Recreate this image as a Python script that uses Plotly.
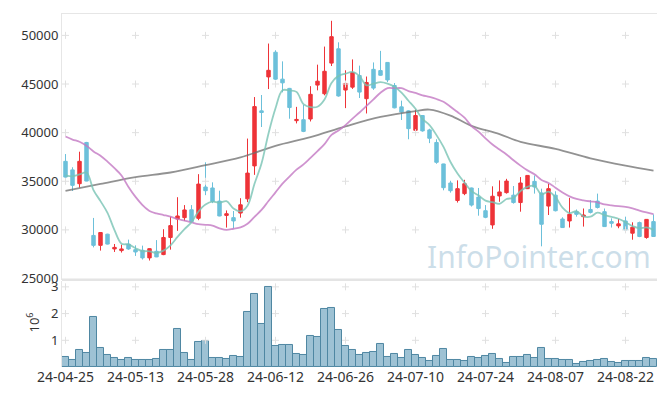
import plotly.graph_objects as go
import pandas as pd

dates = ["24-04-25","24-04-26","24-04-29","24-04-30","24-05-02","24-05-03","24-05-07","24-05-08","24-05-09","24-05-10",
         "24-05-13","24-05-14","24-05-16","24-05-17","24-05-20","24-05-21","24-05-22","24-05-23","24-05-24","24-05-27",
         "24-05-28","24-05-29","24-05-30","24-05-31","24-06-03","24-06-04","24-06-05","24-06-07","24-06-10","24-06-11",
         "24-06-12","24-06-13","24-06-14","24-06-17","24-06-18","24-06-19","24-06-20","24-06-21","24-06-24","24-06-25",
         "24-06-26","24-06-27","24-06-28","24-07-01","24-07-02","24-07-03","24-07-04","24-07-05","24-07-08","24-07-09",
         "24-07-10","24-07-11","24-07-12","24-07-15","24-07-16","24-07-17","24-07-18","24-07-19","24-07-22","24-07-23",
         "24-07-24","24-07-25","24-07-26","24-07-29","24-07-30","24-07-31","24-08-01","24-08-02","24-08-05","24-08-06",
         "24-08-07","24-08-08","24-08-09","24-08-12","24-08-13","24-08-14","24-08-16","24-08-19","24-08-20","24-08-21",
         "24-08-22","24-08-23","24-08-26","24-08-27","24-08-28"]

open_ = [37050,36170,34750,38990,29430,28410,29560,28040,27870,28540,
         27970,27900,27120,27800,27460,29220,31120,31260,32070,31190,
         34410,34310,32960,31490,31260,31730,33190,36580,42240,45730,
         48270,45500,44550,41230,41330,41400,44890,44000,47150,48620,
         44380,44680,45870,43490,46510,46380,47220,44850,42650,42240,
         40240,41760,40280,38990,36780,34820,33020,33730,34310,33370,
         31970,30510,33490,33830,33570,32810,34240,34990,33800,32450,
         33570,31120,30920,31870,31360,32100,32960,31870,30850,30410,
         30920,29660,30750,29220,30850]
high = [37800,36440,38040,39050,31230,29750,29600,28550,28480,29000,
        28410,28380,28100,28950,30070,31360,33360,32550,32550,35730,
        36950,34890,34030,32000,31940,33260,39390,43660,43870,49160,
        48470,47330,44600,42650,42850,44780,46990,48850,51500,49290,
        46410,47530,46890,45770,47220,48410,47250,45100,43290,42300,
        42370,41800,40400,39320,36800,35050,35090,35150,34350,34310,
        32550,34480,35090,35250,34510,35430,35620,35600,34240,34750,
        33970,31300,33290,32100,32200,33060,33730,32200,31190,31120,
        31360,30780,30850,31120,31590]
low = [35300,34000,34340,35000,28200,27870,28500,27730,27670,27950,
       27320,26950,26850,27200,27400,27970,29900,30920,30800,31000,
       33570,32750,31400,30240,30140,31260,32850,35660,40580,44480,
       45420,44140,41430,40950,40050,41150,44350,43840,46850,43700,
       42520,44500,43560,41970,44400,45850,45200,42500,41300,39320,
       40200,40100,38920,36800,34070,33830,32810,33570,32400,31460,
       31200,30110,32890,33730,32700,31870,34200,33730,28310,31530,
       31900,30200,30240,31360,30340,31690,32200,30300,30240,30170,
       29950,28990,29250,29090,29300]
close = [35430,34580,37050,35020,28410,29730,28540,28200,28040,28040,
         27730,27120,28070,27220,29220,30440,31430,32050,30850,34710,
         34030,32920,31430,31660,30920,32580,35840,42680,42070,46410,
         45500,45120,42580,41360,40130,43940,45290,46310,49870,43770,
         45060,46180,44170,45160,44580,45900,45420,42550,42110,40410,
         41760,40180,39420,36950,34340,34030,34240,34750,32550,32190,
         31290,33460,33900,35020,32810,34820,35600,34410,30580,34240,
         31970,30240,31600,31600,31530,31800,32300,30340,30680,30620,
         30000,30270,29320,31080,29320]
volume_m = [0.37,0.27,0.62,0.51,1.87,0.71,0.44,0.34,0.27,0.34,
            0.27,0.27,0.27,0.30,0.63,0.63,1.44,0.52,0.27,0.93,
            0.96,0.34,0.34,0.30,0.40,0.38,2.06,2.72,1.62,3.01,
            0.78,0.82,0.82,0.49,0.45,1.18,1.11,2.17,2.21,1.40,
            0.78,0.63,0.45,0.51,0.55,0.88,0.38,0.48,0.34,0.63,
            0.44,0.34,0.23,0.40,0.67,0.27,0.27,0.23,0.38,0.34,
            0.41,0.49,0.30,0.16,0.38,0.38,0.45,0.34,0.71,0.30,
            0.30,0.27,0.27,0.12,0.18,0.23,0.27,0.30,0.19,0.16,
            0.23,0.23,0.23,0.34,0.30]

# moving-average values before the window is complete
ma5_head = [35600, 35500, 35700, 35900]
ma20_head = [39600, 39290, 39060, 38650, 38070, 37630, 37020, 36340, 35600, 34410,
             33390, 32550, 31940, 31690, 31530, 31360, 31120, 30950, 30780]
# long moving average
ma120_idx = [0, 5, 10, 15, 20, 25, 30, 35, 40, 45, 50, 52, 55, 58, 62, 65, 70, 75, 80, 84]
ma120_val = [34000, 34720, 35420, 35900, 36650, 37450, 38650, 39550, 40650, 41620,
             42220, 42370, 41750, 40700, 39850, 39050, 38330, 37350, 36600, 36100]

price_ticks = [25000, 30000, 35000, 40000, 45000, 50000]
vol_ticks = [1, 2, 3]
x_tick_labels = ["24-04-25", "24-05-13", "24-05-28", "24-06-12", "24-06-26",
                 "24-07-10", "24-07-24", "24-08-07", "24-08-22"]

ma5 = pd.Series(close, dtype=float).rolling(5).mean()
ma5.iloc[:len(ma5_head)] = ma5_head
ma20 = pd.Series(close, dtype=float).rolling(20).mean()
ma20.iloc[:len(ma20_head)] = ma20_head

FONT = "Noto Sans"
RED = "#ee3338"
BLUE = "#6cc0da"

fig = go.Figure()

# grid crosses
gx = [d for d in x_tick_labels for _ in price_ticks[1:]]
gy = [p for _ in x_tick_labels for p in price_ticks[1:]]
fig.add_trace(go.Scatter(x=gx, y=gy, mode="markers", xaxis="x", yaxis="y",
                         marker=dict(symbol="cross-thin", size=5, line=dict(color="#e0e0e0", width=1)),
                         hoverinfo="skip", showlegend=False))
gx2 = [d for d in x_tick_labels for _ in vol_ticks]
gy2 = [v for _ in x_tick_labels for v in vol_ticks]
fig.add_trace(go.Scatter(x=gx2, y=gy2, mode="markers", xaxis="x2", yaxis="y2",
                         marker=dict(symbol="cross-thin", size=5, line=dict(color="#e0e0e0", width=1)),
                         hoverinfo="skip", showlegend=False))

fig.add_trace(go.Candlestick(x=dates, open=open_, high=high, low=low, close=close,
                             xaxis="x", yaxis="y",
                             increasing=dict(line=dict(color=RED, width=1), fillcolor=RED),
                             decreasing=dict(line=dict(color=BLUE, width=1), fillcolor=BLUE),
                             showlegend=False))

fig.add_trace(go.Scatter(x=[dates[i] for i in ma120_idx], y=ma120_val, mode="lines",
                         line=dict(color="rgba(110,110,110,0.75)", width=1.8, shape="spline"),
                         xaxis="x", yaxis="y", showlegend=False))
fig.add_trace(go.Scatter(x=dates, y=ma20, mode="lines",
                         line=dict(color="rgba(195,120,195,0.8)", width=1.8, shape="spline"),
                         xaxis="x", yaxis="y", showlegend=False))
fig.add_trace(go.Scatter(x=dates, y=ma5, mode="lines",
                         line=dict(color="rgba(120,195,180,0.8)", width=1.8, shape="spline"),
                         xaxis="x", yaxis="y", showlegend=False))

fig.add_trace(go.Bar(x=dates, y=volume_m, xaxis="x2", yaxis="y2",
                     marker=dict(color="rgba(120,170,195,0.72)", line=dict(color="#4f87a2", width=1)),
                     showlegend=False))

top_bottom = (367 - 278) / 357
vol_top = (367 - 280) / 357

# the page body has an 8px margin, so the figure is shrunk and its margins shifted
fig.update_layout(
    width=657, height=388,
    margin=dict(l=54, r=8, t=2, b=29),
    paper_bgcolor="white", plot_bgcolor="white",
    font=dict(family=FONT, size=13, color="#333333"),
    bargap=0,
    showlegend=False,
    xaxis=dict(type="category", categoryorder="array", categoryarray=dates,
               range=[-0.5, len(dates) - 0.5], anchor="y", matches="x2",
               showticklabels=False, showgrid=False, zeroline=False,
               showline=True, mirror=True, linecolor="#e6e6e6", linewidth=1,
               rangeslider=dict(visible=False)),
    yaxis=dict(domain=[top_bottom, 1], range=[24950, 52200], tickvals=price_ticks,
               tickformat="d",
               showgrid=False, zeroline=False, ticks="",
               showline=True, mirror=True, linecolor="#e6e6e6", linewidth=1),
    xaxis2=dict(type="category", categoryorder="array", categoryarray=dates,
                range=[-0.5, len(dates) - 0.5], anchor="y2",
                tickvals=x_tick_labels, ticktext=x_tick_labels, ticks="",
                tickfont=dict(size=14),
                showgrid=False, zeroline=False, showline=False),
    yaxis2=dict(domain=[0, vol_top], range=[0, 3.22], tickvals=vol_ticks,
                showgrid=False, zeroline=False, ticks="",
                showline=True, linecolor="#e6e6e6", linewidth=1),
    shapes=[dict(type="line", xref="paper", yref="paper", x0=0, x1=1,
                 y0=top_bottom - 0.002, y1=top_bottom - 0.002,
                 line=dict(color="#e4e4e4", width=2.5))],
    annotations=[
        dict(text="InfoPointer.com", xref="paper", yref="paper",
             x=(539 - 62) / 595, y=(367 - 255) / 357, xanchor="center", yanchor="middle",
             showarrow=False,
             font=dict(family=FONT, size=30, color="rgba(170,200,218,0.6)")),
        dict(text="10<sup>6</sup>", xref="paper", yref="paper",
             x=(33 - 62) / 595, y=(367 - 322) / 357, xanchor="center", yanchor="middle",
             showarrow=False, textangle=-90,
             font=dict(family=FONT, size=13, color="#333333")),
    ],
)

fig.write_html("out.html")
